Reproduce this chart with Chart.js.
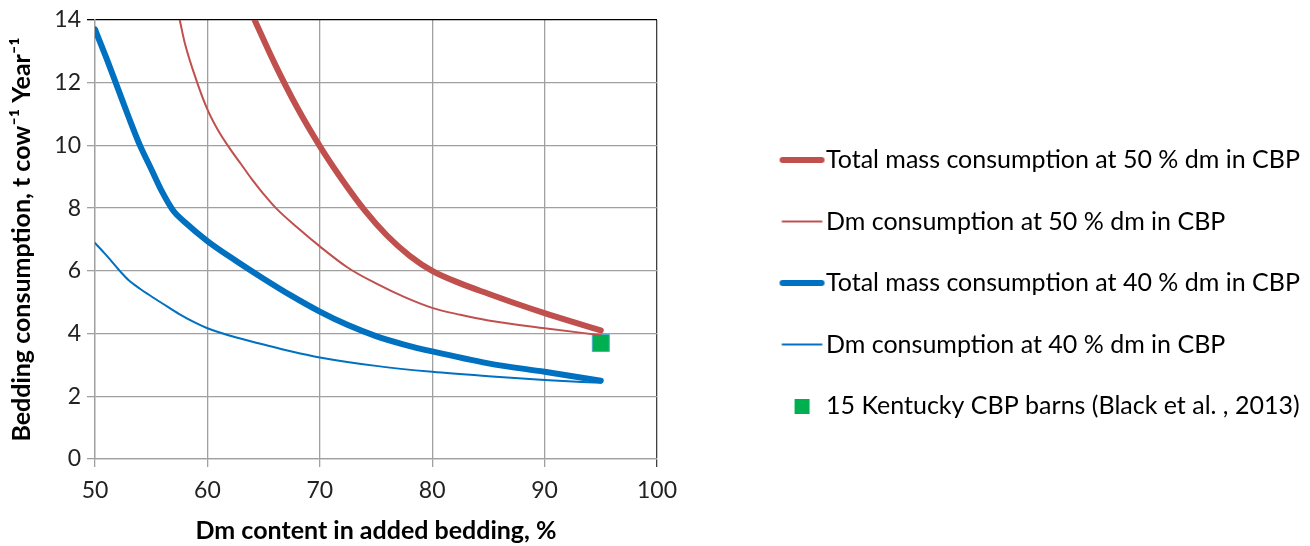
<!DOCTYPE html>
<html>
<head>
<meta charset="utf-8">
<script src="https://cdn.jsdelivr.net/npm/chart.js@4.4.1/dist/chart.umd.min.js"></script>
<style>
  html, body { margin: 0; padding: 0; background: #fff; }
  #wrap { width: 1310px; height: 546px; position: relative; }
</style>
</head>
<body>
<div id="wrap"><canvas id="c" width="1310" height="546"></canvas></div>
<script>
// ---- data ----
const total50X = [64.2, 66, 68, 70, 72, 74, 76, 78, 80, 82.5, 85, 87.5, 90, 92.5, 95];
const total50Y = [14, 12.6, 11.2, 9.98, 8.9, 7.93, 7.12, 6.48, 6.0, 5.6, 5.27, 4.95, 4.65, 4.37, 4.1];

const dm50X = [57.54, 58, 59, 60, 61, 62, 63, 64, 65, 66.1, 68, 70, 72.5, 75, 77.5, 80, 82.5, 85, 90, 95];
const dm50Y = [14, 13.25, 12.1, 11.15, 10.45, 9.9, 9.4, 8.9, 8.45, 8.0, 7.38, 6.78, 6.1, 5.6, 5.17, 4.82, 4.6, 4.42, 4.17, 3.95];

const total40X = [50, 51, 52, 53, 54, 55, 56, 57, 58, 60, 62.5, 65, 67.5, 70, 72.5, 75, 77.5, 80, 85, 90, 95];
const total40Y = [13.7, 12.8, 11.85, 10.9, 10.0, 9.25, 8.5, 7.9, 7.55, 6.95, 6.33, 5.75, 5.2, 4.7, 4.27, 3.92, 3.65, 3.43, 3.05, 2.78, 2.5];

const dm40X = [50, 51, 52.2, 53, 54, 55, 56, 57.5, 59, 60, 62.5, 65, 67.5, 70, 75, 80, 85, 90, 95];
const dm40Y = [6.89, 6.5, 6.0, 5.7, 5.43, 5.19, 4.96, 4.62, 4.33, 4.17, 3.88, 3.65, 3.43, 3.24, 2.97, 2.78, 2.64, 2.52, 2.43];

const kentuckyX = [95];
const kentuckyY = [3.7];

const seriesLabels = [
  'Total mass consumption at 50 % dm in CBP',
  'Dm consumption at 50 % dm in CBP',
  'Total mass consumption at 40 % dm in CBP',
  'Dm consumption at 40 % dm in CBP',
  '15 Kentucky CBP barns (Black et al. , 2013)'
];
const xTicks = [50, 60, 70, 80, 90, 100];
const yTicks = [0, 2, 4, 6, 8, 10, 12, 14];
const xTitle = 'Dm content in added bedding, %';
const yTitle = 'Bedding consumption, t cow\u207B\u00B9 Year\u207B\u00B9';

// ---- build ----
const pts = (xs, ys) => xs.map((x, i) => ({ x: x, y: ys[i] }));
const RED = '#C0504D', BLUE = '#0070C0', GREEN = '#00B050';
const FONT = 'Lato, "Open Sans", sans-serif';

function lineIcon(color, w) {
  const c = document.createElement('canvas');
  c.width = 84; c.height = 10;
  const g = c.getContext('2d');
  g.strokeStyle = color; g.lineWidth = w; g.lineCap = 'round';
  g.beginPath(); g.moveTo(30, 5); g.lineTo(69, 5); g.stroke();
  return c;
}
function squareIcon() {
  const c = document.createElement('canvas');
  c.width = 84; c.height = 15;
  const g = c.getContext('2d');
  g.fillStyle = GREEN; g.fillRect(42, 0, 15, 15);
  return c;
}
const icons = [lineIcon(RED, 6), lineIcon(RED, 2), lineIcon(BLUE, 6), lineIcon(BLUE, 2), squareIcon()];

const lineDs = (label, data, color, w) => ({
  type: 'line', label: label, data: data, borderColor: color, backgroundColor: color,
  borderWidth: w, pointRadius: 0, pointHoverRadius: 0, fill: false,
  cubicInterpolationMode: 'monotone', borderCapStyle: 'round', borderJoinStyle: 'round'
});

const datasets = [
  lineDs(seriesLabels[0], pts(total50X, total50Y), RED, 6),
  lineDs(seriesLabels[1], pts(dm50X, dm50Y), RED, 2),
  lineDs(seriesLabels[2], pts(total40X, total40Y), BLUE, 6),
  lineDs(seriesLabels[3], pts(dm40X, dm40Y), BLUE, 2),
  {
    type: 'scatter', label: seriesLabels[4], data: pts(kentuckyX, kentuckyY),
    showLine: false, pointStyle: 'rect', pointRadius: 12, pointHoverRadius: 12,
    backgroundColor: GREEN, borderColor: '#4BACC6', borderWidth: 1
  }
];

const PLOT_RIGHT = 657;

new Chart(document.getElementById('c'), {
  type: 'line',
  data: { datasets: datasets },
  options: {
    responsive: false,
    animation: false,
    events: [],
    layout: { padding: { top: 20, left: 0, right: 0, bottom: 0 } },
    plugins: {
      tooltip: { enabled: false },
      legend: {
        position: 'right',
        align: 'center',
        maxWidth: 700,
        labels: {
          usePointStyle: true,
          pointStyleWidth: 38,
          padding: 36.5,
          color: '#000',
          font: { family: FONT, size: 25 },
          generateLabels: (chart) => {
            const items = Chart.defaults.plugins.legend.labels.generateLabels(chart);
            items.forEach((it, i) => { it.pointStyle = icons[i]; });
            return items;
          }
        }
      }
    },
    scales: {
      x: {
        type: 'linear', min: 50, max: 100,
        afterBuildTicks: (s) => { s.ticks = xTicks.map(v => ({ value: v })); },
        afterFit: (s) => { s.height = 87; },
        ticks: { color: '#222', font: { family: FONT, size: 23 }, padding: 10, maxRotation: 0 },
        grid: {
          color: (ctx) => (ctx.tick && ctx.tick.value === 100) ? '#404040' : '#A0A0A0',
          lineWidth: 1.3, tickLength: 8
        },
        border: { color: '#A0A0A0', width: 1.3 },
        title: { display: true, text: xTitle, color: '#000', font: { family: FONT, size: 25, weight: 'bold' }, padding: { top: 0, bottom: 0 } }
      },
      y: {
        type: 'linear', min: 0, max: 14,
        afterBuildTicks: (s) => { s.ticks = yTicks.map(v => ({ value: v })); },
        afterFit: (s) => { s.width = 95; },
        ticks: { color: '#222', font: { family: FONT, size: 23 }, padding: 6 },
        grid: {
          color: (ctx) => (ctx.tick && ctx.tick.value === 14) ? '#000000' : '#A0A0A0',
          lineWidth: 1.3, tickLength: 8
        },
        border: { color: '#A0A0A0', width: 1.3 },
        title: { display: true, text: yTitle, color: '#000', font: { family: FONT, size: 25, weight: 'bold' }, padding: { top: 7, bottom: 0 } }
      },
      gap: {
        type: 'linear', position: 'right', min: 0, max: 1, display: true,
        ticks: { display: false }, grid: { display: false }, border: { display: false },
        afterFit: (s) => {
          const lw = s.chart.legend ? s.chart.legend.width : 560;
          s.width = Math.max(0, 1310 - lw - PLOT_RIGHT);
        }
      }
    }
  }
});
</script>
</body>
</html>
